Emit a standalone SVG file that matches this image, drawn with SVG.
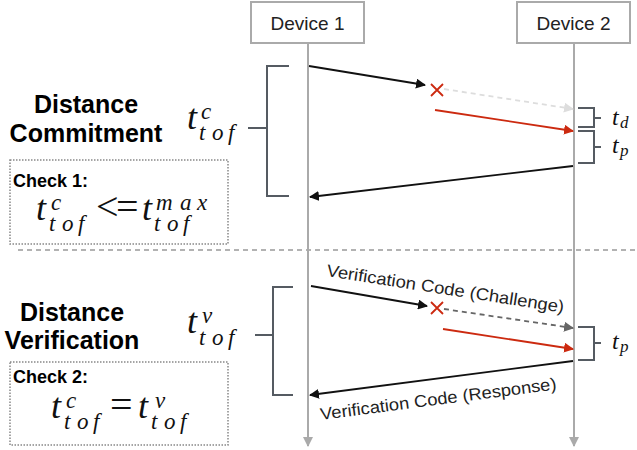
<svg xmlns="http://www.w3.org/2000/svg" width="637" height="450" viewBox="0 0 637 450">
<style>
.dev{fill:#fff;stroke:#aaa;stroke-width:2}
.devt{font-family:"Liberation Sans",Arial,sans-serif;font-size:19px;fill:#222;text-anchor:middle}
.life{stroke:#aaa;stroke-width:2;fill:none}
.br{stroke:#555b62;stroke-width:2;fill:none}
.msg{stroke:#111;stroke-width:1.8;fill:none}
.red{stroke:#cc2a10;stroke-width:1.8;fill:none}
.dl{stroke:#ddd;stroke-width:1.8;fill:none;stroke-dasharray:5,4}
.dd{stroke:#666;stroke-width:1.8;fill:none;stroke-dasharray:5,4}
.head{font-family:"Liberation Sans",Arial,sans-serif;font-weight:bold;font-size:25px;fill:#000;text-anchor:middle}
.chk{font-family:"Liberation Sans",Arial,sans-serif;font-weight:bold;font-size:18px;fill:#000}
.box{fill:none;stroke:#888;stroke-width:1.5;stroke-dasharray:1.5,1.5}
.m{font-family:"Liberation Serif","Times New Roman",serif;font-style:italic;fill:#111;font-size:23px}
.mt{font-family:"Liberation Serif","Times New Roman",serif;font-style:italic;fill:#111;font-size:36px}
.mu{font-family:"Liberation Serif","Times New Roman",serif;fill:#111;font-size:40px}
.ms{font-family:"Liberation Serif","Times New Roman",serif;font-style:italic;fill:#111}
.lbl{font-family:"Liberation Sans",Arial,sans-serif;font-size:17px;fill:#222}
</style>
<defs>
<marker id="ab" viewBox="0 0 10 10" refX="9" refY="5" markerWidth="10" markerHeight="10" markerUnits="userSpaceOnUse" orient="auto"><path d="M0,0 L10,5 L0,10 z" fill="#111"/></marker>
<marker id="ar" viewBox="0 0 10 10" refX="9" refY="5" markerWidth="10" markerHeight="10" markerUnits="userSpaceOnUse" orient="auto"><path d="M0,0 L10,5 L0,10 z" fill="#cc2a10"/></marker>
<marker id="al" viewBox="0 0 10 10" refX="9" refY="5" markerWidth="10" markerHeight="10" markerUnits="userSpaceOnUse" orient="auto"><path d="M0,0 L10,5 L0,10 z" fill="#ddd"/></marker>
<marker id="ad" viewBox="0 0 10 10" refX="9" refY="5" markerWidth="10" markerHeight="10" markerUnits="userSpaceOnUse" orient="auto"><path d="M0,0 L10,5 L0,10 z" fill="#666"/></marker>
<marker id="ag" viewBox="0 0 10 10" refX="9" refY="5" markerWidth="10" markerHeight="10" markerUnits="userSpaceOnUse" orient="auto"><path d="M0,0 L10,5 L0,10 z" fill="#aaa"/></marker>
</defs>

<line x1="18" y1="250" x2="637" y2="250" stroke="#999" stroke-width="1.5" stroke-dasharray="5,4"/>

<g id="device1">
<rect class="dev" x="251" y="2" width="113" height="41"/>
<text class="devt" x="307.5" y="30">Device 1</text>
<line class="life" x1="308" y1="43" x2="308" y2="446" marker-end="url(#ag)"/>
</g>
<g id="device2">
<rect class="dev" x="517" y="2" width="113" height="41"/>
<text class="devt" x="573.5" y="30">Device 2</text>
<line class="life" x1="574" y1="43" x2="574" y2="446" marker-end="url(#ag)"/>
</g>

<g id="commitment">
<text class="head" x="86" y="113">Distance</text>
<text class="head" x="86" y="142">Commitment</text>
<text class="mt" x="187" y="129">t</text>
<text class="m" x="201" y="119">c</text>
<text class="m" y="140"><tspan x="199">t</tspan><tspan x="212">o</tspan><tspan x="228">f</tspan></text>
<path class="br" d="M289,66 H267 V196 H289 M248,128 H267"/>
</g>

<g id="check1">
<rect class="box" x="10" y="160" width="218" height="84"/>
<text class="chk" x="13" y="187">Check 1:</text>
<text class="mt" x="36" y="220">t</text>
<text class="m" x="51" y="210">c</text>
<text class="m" y="231"><tspan x="49">t</tspan><tspan x="62">o</tspan><tspan x="78">f</tspan></text>
<text class="mu" y="220"><tspan x="96">&lt;</tspan><tspan x="116">=</tspan></text>
<text class="mt" x="142" y="220">t</text>
<text class="m" y="210"><tspan x="156">m</tspan><tspan x="180">a</tspan><tspan x="197">x</tspan></text>
<text class="m" y="231"><tspan x="154">t</tspan><tspan x="167">o</tspan><tspan x="183">f</tspan></text>
</g>

<g id="timing">
<path class="br" d="M578,108 H594 V127 H578 M594,118 H601"/>
<text class="ms" x="612" y="125" font-size="24">t</text>
<text class="ms" x="620" y="128" font-size="17">d</text>
<path class="br" d="M578,131 H594 V163 H578 M594,147 H601"/>
<text class="ms" x="612" y="153" font-size="24">t</text>
<text class="ms" x="620" y="156" font-size="17">p</text>
</g>

<g id="verification">
<text class="head" x="72" y="321">Distance</text>
<text class="head" x="72" y="349">Verification</text>
<text class="mt" x="187" y="333">t</text>
<text class="m" x="202" y="323">v</text>
<text class="m" y="345"><tspan x="199">t</tspan><tspan x="212">o</tspan><tspan x="228">f</tspan></text>
<path class="br" d="M293,287 H273 V395 H293 M255,335 H273"/>
<path class="br" d="M578,327 H594 V360 H578 M594,343 H601"/>
<text class="ms" x="612" y="349" font-size="24">t</text>
<text class="ms" x="620" y="352" font-size="17">p</text>
</g>

<g id="check2">
<rect class="box" x="10" y="362" width="218" height="83"/>
<text class="chk" x="13" y="383">Check 2:</text>
<text class="mt" x="51" y="418">t</text>
<text class="m" x="66" y="408">c</text>
<text class="m" y="429"><tspan x="64">t</tspan><tspan x="77">o</tspan><tspan x="93">f</tspan></text>
<text class="mu" x="110" y="418">=</text>
<text class="mt" x="138" y="418">t</text>
<text class="m" x="155" y="408">v</text>
<text class="m" y="429"><tspan x="151">t</tspan><tspan x="164">o</tspan><tspan x="180">f</tspan></text>
</g>

<g id="connectors">
<line class="msg" x1="309" y1="66" x2="425" y2="85" marker-end="url(#ab)"/>
<path class="red" d="M431,84 L443,96 M443,84 L431,96"/>
<line class="dl" x1="444" y1="89" x2="573" y2="109" marker-end="url(#al)"/>
<line class="red" x1="435" y1="110" x2="573" y2="131" marker-end="url(#ar)"/>
<line class="msg" x1="573" y1="166" x2="310" y2="197" marker-end="url(#ab)"/>

<line class="msg" x1="311" y1="286" x2="427" y2="306" marker-end="url(#ab)"/>
<path class="red" d="M431,302 L443,314 M443,302 L431,314"/>
<line class="dd" x1="444" y1="309" x2="573" y2="328" marker-end="url(#ad)"/>
<line class="red" x1="443" y1="329" x2="573" y2="349" marker-end="url(#ar)"/>
<line class="msg" x1="573" y1="361" x2="310" y2="395" marker-end="url(#ab)"/>
<text class="lbl" transform="translate(326,276) rotate(8.8)" textLength="240" lengthAdjust="spacingAndGlyphs">Verification Code (Challenge)</text>
<text class="lbl" transform="translate(321,420) rotate(-7.4)" textLength="238" lengthAdjust="spacingAndGlyphs">Verification Code (Response)</text>
</g>
</svg>
